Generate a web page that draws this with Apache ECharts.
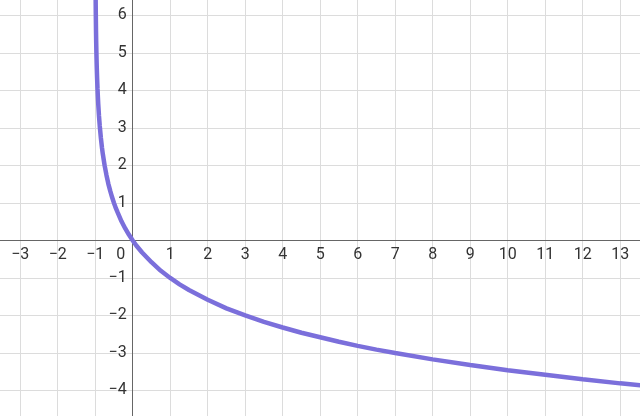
<!DOCTYPE html>
<html><head><meta charset="utf-8">
<script src="https://cdn.jsdelivr.net/npm/echarts@6/dist/echarts.min.js"></script>
<style>html,body{margin:0;padding:0;background:#fff}#c{width:640px;height:416px}</style>
</head><body><div id="c"></div>
<script>
// Curve points (x, y)
const curveX = [-0.996,-0.995,-0.993,-0.99,-0.987,-0.985,-0.98,-0.975,-0.97,-0.965,-0.96,-0.95,-0.94,-0.93,-0.92,-0.9,-0.88,-0.85,-0.82,-0.8,-0.75,-0.7,-0.65,-0.6,-0.55,-0.5,-0.45,-0.4,-0.3,-0.2,-0.1,0,0.1,0.25,0.5,0.75,1,1.25,1.5,2,2.5,3,3.5,4,4.5,5,5.5,6,6.5,7,8,9,10,11,12,13,14];
const curveY = [7.97,7.64,7.16,6.64,6.27,6.06,5.64,5.32,5.06,4.84,4.64,4.32,4.06,3.84,3.64,3.32,3.06,2.74,2.47,2.32,2.0,1.74,1.51,1.32,1.15,1.0,0.86,0.74,0.51,0.32,0.15,0,-0.14,-0.32,-0.58,-0.81,-1.0,-1.17,-1.32,-1.58,-1.81,-2.0,-2.17,-2.32,-2.46,-2.58,-2.70,-2.81,-2.91,-3.0,-3.17,-3.32,-3.46,-3.58,-3.70,-3.81,-3.91];
const xMin = -4, xMax = 14;
const yMin = -5, yMax = 7;

const unit = 37.5;
const W = 640, H = 416;
const gl = -(0.46*unit), gr = -(0.47*unit), gt = -(0.59*unit), gb = -(0.32*unit);
const chart = echarts.init(document.getElementById('c'));
const data = curveX.map((x,i)=>[x, curveY[i]]);
const minus = s => String(s).replace('-', '\u2212');
const font = 'Roboto, Arial, sans-serif';
chart.setOption({
  animation:false,
  grid:{left:gl, right:gr, top:gt, bottom:gb, containLabel:false, outerBoundsMode:'none'},
  xAxis:{type:'value', min:xMin, max:xMax, interval:1, position:'bottom',
    axisLine:{onZero:false, lineStyle:{color:'#666', width:1}},
    axisTick:{show:false},
    splitLine:{show:true, lineStyle:{color:'#dcdcdc', width:1}},
    axisLabel:{color:'#333', fontSize:16, fontFamily:font, margin:7,
      formatter:v=> v===0 ? '{z|0}' : minus(v),
      rich:{z:{fontSize:16, color:'#333', fontFamily:font, padding:[0,24,0,0]}}}
  },
  yAxis:{type:'value', min:yMin, max:yMax, interval:1, position:'left',
    axisLine:{onZero:false, lineStyle:{color:'#666', width:1}},
    axisTick:{show:false},
    splitLine:{show:true, lineStyle:{color:'#dcdcdc', width:1}},
    axisLabel:{color:'#333', fontSize:16, fontFamily:font, margin:6,
      formatter:v=> v===0 ? '' : minus(v)}
  },
  series:[{type:'line', data:data, showSymbol:false, smooth:false, clip:true,
    lineStyle:{color:'#7b6fdb', width:4.5}, z:5}]
});
// move axes (line + labels) onto the origin
const origin = chart.convertToPixel({gridIndex:0}, [0,0]);
const gridBottom = H - gb, gridLeft = gl;
chart.setOption({
  xAxis:{offset: -(gridBottom - origin[1])},
  yAxis:{offset: -(origin[0] - gridLeft)}
});
</script></body></html>
